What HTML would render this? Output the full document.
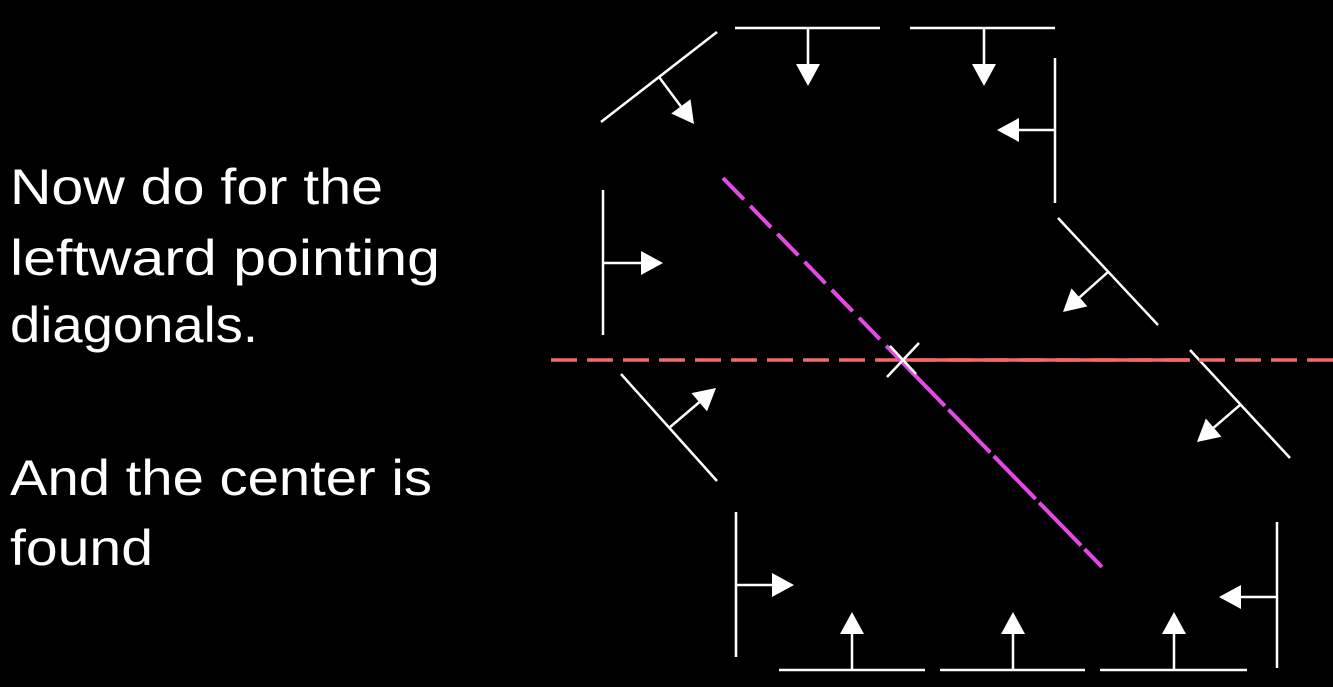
<!DOCTYPE html>
<html><head><meta charset="utf-8"><style>
html,body{margin:0;padding:0;background:#000;width:1333px;height:687px;overflow:hidden}
svg{display:block}
text{font-family:"Liberation Sans",sans-serif;fill:#fff;font-size:50px}
</style></head><body>
<svg width="1333" height="687">
<g>
<text x="10" y="204" textLength="373" lengthAdjust="spacingAndGlyphs">Now do for the</text>
<text x="10" y="275" textLength="430" lengthAdjust="spacingAndGlyphs">leftward pointing</text>
<text x="10" y="342" textLength="248" lengthAdjust="spacingAndGlyphs">diagonals.</text>
<text x="10" y="495" textLength="422" lengthAdjust="spacingAndGlyphs">And the center is</text>
<text x="10" y="565" textLength="143" lengthAdjust="spacingAndGlyphs">found</text>
</g>
<g id="lines" stroke="#fff" stroke-width="2.5" fill="none"></g>
<g id="arrows"></g>
<line x1="551" y1="360" x2="1333" y2="360" stroke="#f26a6a" stroke-width="3.5" stroke-dasharray="26,10"/>
<line x1="905" y1="360" x2="1190" y2="360" stroke="#f26a6a" stroke-width="3.5"/>
<line x1="723" y1="178" x2="903" y2="363" stroke="#e548e5" stroke-width="4" stroke-dasharray="30,9"/>
<line x1="903" y1="363" x2="1102" y2="567" stroke="#e548e5" stroke-width="4" stroke-dasharray="60,5"/>
<g stroke="#fff" stroke-width="2.5">
<line x1="887" y1="377" x2="919" y2="343"/><line x1="890" y1="346" x2="916" y2="374"/>
</g>
</svg>
<script>
const segs=[[601,122,717,32],[735,28,880,28],[910,28,1055,28],[1055,58,1055,203],[603,190,603,335],[1058,218,1158,325],[621,374,717,481],[1190,350,1290,458],[736,512,736,657],[1277,522,1277,668],[779,670,925,670],[940,670,1085,670],[1100,670,1247,670]];
const arrs=[[659,77,694,124],[808,28,808,86],[984,28,984,86],[1055,130,997,130],[603,263,663,263],[1108,272,1063,312],[669,428,716,388],[1240,405,1197,442],[736,585,794,585],[1277,597,1219,597],[852,670,852,612],[1013,670,1013,612],[1174,670,1174,612]];
const NS='http://www.w3.org/2000/svg';
const L=document.getElementById('lines'),A=document.getElementById('arrows');
segs.forEach(s=>{const e=document.createElementNS(NS,'line');
e.setAttribute('x1',s[0]);e.setAttribute('y1',s[1]);e.setAttribute('x2',s[2]);e.setAttribute('y2',s[3]);


L.appendChild(e);});
arrs.forEach(a=>{const dx=a[2]-a[0],dy=a[3]-a[1],len=Math.hypot(dx,dy),ux=dx/len,uy=dy/len,h=22,w=12;
const bx=a[2]-ux*h,by=a[3]-uy*h;
const ln=document.createElementNS(NS,'line');
ln.setAttribute('x1',a[0]);ln.setAttribute('y1',a[1]);ln.setAttribute('x2',bx);ln.setAttribute('y2',by);
ln.setAttribute('stroke','#fff');ln.setAttribute('stroke-width','2.5');


A.appendChild(ln);
const p=document.createElementNS(NS,'polygon');
p.setAttribute('points',`${a[2]},${a[3]} ${bx-uy*w},${by+ux*w} ${bx+uy*w},${by-ux*w}`);
p.setAttribute('fill','#fff');


A.appendChild(p);});
</script>
</body></html>
